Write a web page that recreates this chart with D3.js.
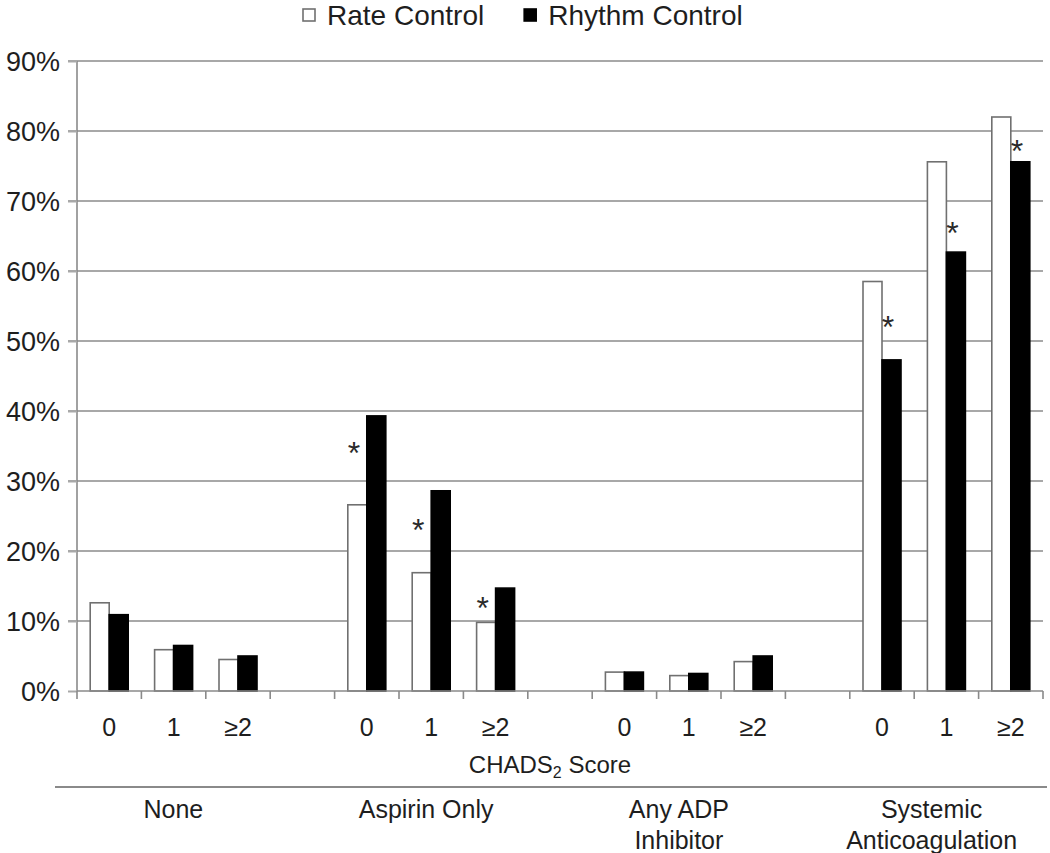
<!DOCTYPE html>
<html><head><meta charset="utf-8">
<script src="https://cdn.jsdelivr.net/npm/d3@7"></script>
<style>
html,body{margin:0;padding:0;background:#fff;}
svg{display:block;font-family:"Liberation Sans",Arial,sans-serif;}
</style></head>
<body>
<svg id="chart" width="1050" height="853"></svg>
<script>
// ---- data ----
const groups = ["None", "Aspirin Only", "Any ADP Inhibitor", "Systemic Anticoagulation"];
const groupLabelLines = [["None"], ["Aspirin Only"], ["Any ADP", "Inhibitor"], ["Systemic", "Anticoagulation"]];
const scores = ["0", "1", "≥2"];
const seriesNames = ["Rate Control", "Rhythm Control"];
const rateValues   = [12.6, 5.9, 4.5, 26.6, 16.9, 9.8, 2.7, 2.2, 4.2, 58.5, 75.6, 82.0];
const rhythmValues = [10.9, 6.5, 5.0, 39.3, 28.6, 14.7, 2.7, 2.5, 5.0, 47.3, 62.7, 75.6];
const yTickValues = [0, 10, 20, 30, 40, 50, 60, 70, 80, 90];
// significance markers: group index, score index, series it sits over, level (%)
const starGroup  = [1, 1, 1, 3, 3, 3];
const starScore  = [0, 1, 2, 0, 1, 2];
const starSeries = [0, 0, 0, 1, 1, 1];
const starLevel  = [35, 24, 12.9, 53, 66.4, 78.1];

(function () {
// ---- layout ----
const svg = d3.select("#chart");
const mLeft = 77, mRight = 1043, mTop = 61, mBottom = 691;
const textColor = "#1e1e1e";

// slots: 3 scores per group, one empty slot between groups
const slotKeys = [];
groups.forEach((g, gi) => {
  scores.forEach(s => slotKeys.push(g + "|" + s));
  if (gi < groups.length - 1) slotKeys.push("gap" + gi);
});
const x = d3.scaleBand().domain(slotKeys).range([mLeft, mRight]).padding(0);
const inner = d3.scaleBand().domain(seriesNames).range([0, x.bandwidth()]).paddingInner(0).paddingOuter(0.695);
const y = d3.scaleLinear().domain([0, 90]).range([mBottom, mTop]);

// gridlines
svg.append("g").selectAll("line").data(yTickValues.filter(v => v > 0)).join("line")
  .attr("x1", mLeft - 9).attr("x2", mRight).attr("y1", d => y(d)).attr("y2", d => y(d))
  .attr("stroke", "#a8a8a8").attr("stroke-width", 2);

// y axis
const yAxis = d3.axisLeft(y).tickValues(yTickValues).tickFormat(d => d + "%").tickSize(9).tickPadding(8);
const ya = svg.append("g").attr("transform", `translate(${mLeft},0)`).call(yAxis);
ya.select(".domain").attr("stroke", "#8a8a8a").attr("stroke-width", 1.6).attr("d", `M0,${mTop}V${mBottom}`);
ya.selectAll(".tick line").attr("stroke", "#a8a8a8").attr("stroke-width", 2);
ya.selectAll(".tick text").attr("font-size", 27).attr("fill", textColor)
  .attr("font-family", "Liberation Sans, Arial, sans-serif").attr("dy", "0.36em");

// bars
const rows = [];
groups.forEach((g, gi) => scores.forEach((s, si) => {
  const i = gi * 3 + si;
  rows.push({key: g + "|" + s, series: seriesNames[0], value: rateValues[i]});
  rows.push({key: g + "|" + s, series: seriesNames[1], value: rhythmValues[i]});
}));
svg.append("g").selectAll("rect").data(rows).join("rect")
  .attr("x", d => x(d.key) + inner(d.series))
  .attr("width", inner.bandwidth())
  .attr("y", d => y(d.value))
  .attr("height", d => y(0) - y(d.value))
  .attr("fill", d => d.series === seriesNames[0] ? "#fff" : "#000")
  .attr("stroke", d => d.series === seriesNames[0] ? "#707070" : "#000")
  .attr("stroke-width", 1.6);

// x axis baseline and ticks
const xa = svg.append("g");
xa.append("line").attr("x1", mLeft).attr("x2", mRight).attr("y1", y(0)).attr("y2", y(0))
  .attr("stroke", "#8a8a8a").attr("stroke-width", 1.6);
const boundaries = slotKeys.map(k => x(k)).concat([mRight]);
xa.selectAll("line.tk").data(boundaries).join("line").attr("class", "tk")
  .attr("x1", d => d).attr("x2", d => d).attr("y1", y(0)).attr("y2", y(0) + 8)
  .attr("stroke", "#8a8a8a").attr("stroke-width", 1.6);

// score labels
const scoreSlots = slotKeys.filter(k => k.indexOf("|") > 0);
svg.append("g").selectAll("text").data(scoreSlots).join("text")
  .attr("x", d => x(d) + x.bandwidth() / 2)
  .attr("y", y(0) + 45)
  .attr("text-anchor", "middle").attr("font-size", 25).attr("fill", textColor)
  .text(d => d.split("|")[1]);

// CHADS2 axis title
const title = svg.append("text")
  .attr("x", (mLeft + mRight) / 2 - 10).attr("y", y(0) + 82)
  .attr("text-anchor", "middle").attr("font-size", 24).attr("fill", textColor);
title.append("tspan").text("CHADS");
title.append("tspan").attr("font-size", 16).attr("dy", 5).text("2");
title.append("tspan").attr("dy", -5).text(" Score");

// separator line
svg.append("line").attr("x1", 55).attr("x2", 1047).attr("y1", 787).attr("y2", 787)
  .attr("stroke", "#8a8a8a").attr("stroke-width", 2);

// group labels
const gx = d3.scaleBand().domain(groups).range([mLeft - 30, mRight + 15]);
const gl = svg.append("g").selectAll("text").data(groups).join("text")
  .attr("text-anchor", "middle").attr("font-size", 25).attr("fill", textColor);
gl.each(function(g, gi) {
  const t = d3.select(this);
  groupLabelLines[gi].forEach((line, li) => {
    t.append("tspan").attr("x", gx(g) + gx.bandwidth() / 2).attr("y", 818 + li * 31).text(line);
  });
});

// significance asterisks
svg.append("g").selectAll("text").data(starLevel.map((lv, i) => i)).join("text")
  .attr("x", i => x(groups[starGroup[i]] + "|" + scores[starScore[i]]) + inner(seriesNames[starSeries[i]]) + inner.bandwidth() * 0.32)
  .attr("y", i => y(starLevel[i]) + 18)
  .attr("text-anchor", "middle").attr("font-size", 32).attr("fill", "#2a2a2a")
  .text("*");

// legend
const legend = svg.append("g");
let lx = 303;
seriesNames.forEach((name, i) => {
  legend.append("rect").attr("x", lx).attr("y", 9).attr("width", 12).attr("height", 12)
    .attr("fill", i === 0 ? "#fff" : "#000").attr("stroke", i === 0 ? "#707070" : "#000").attr("stroke-width", 1.6);
  const t = legend.append("text").attr("x", lx + 24).attr("y", 25).attr("font-size", 28)
    .attr("fill", textColor).text(name);
  lx = lx + 24 + t.node().getComputedTextLength() + 40;
});
})();
</script>
</body></html>
